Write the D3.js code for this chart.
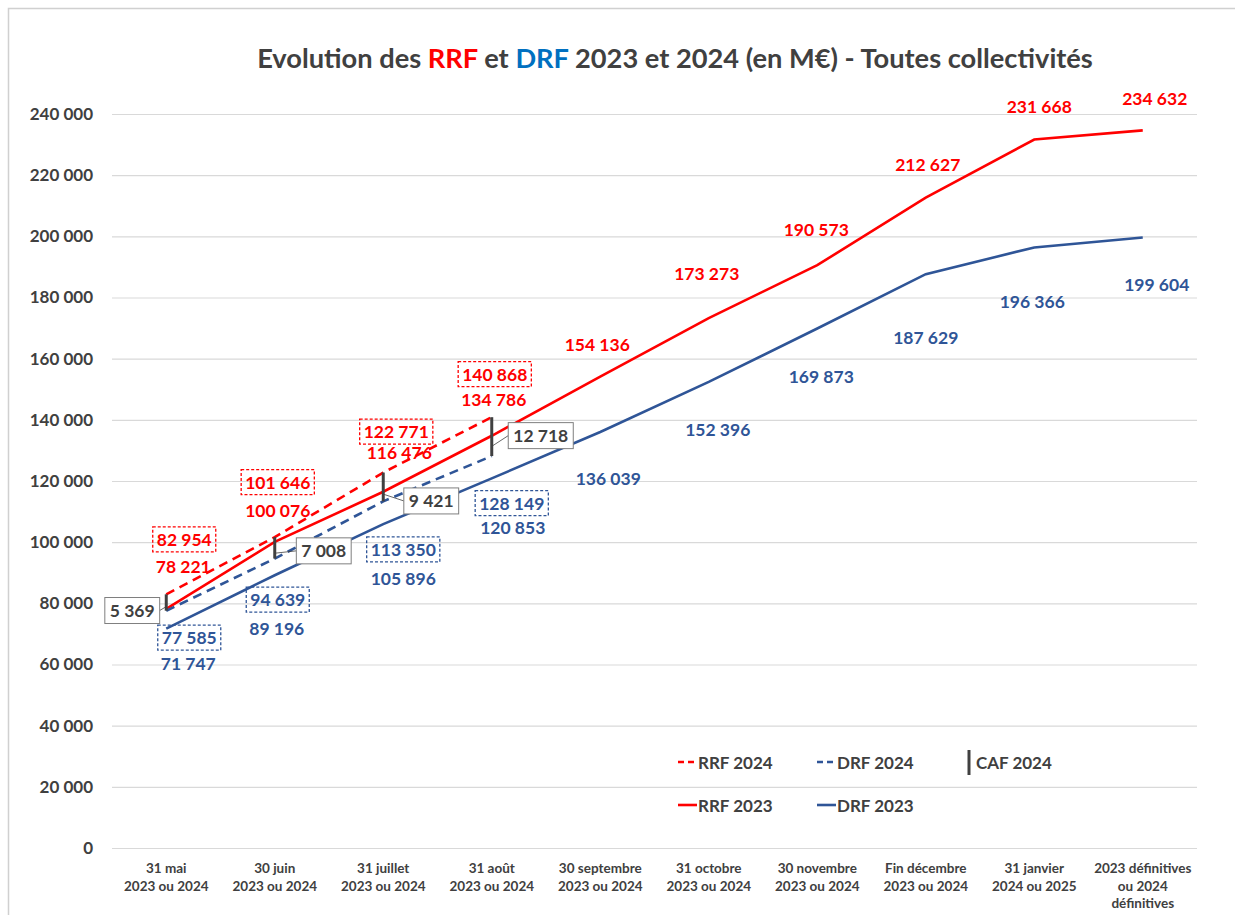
<!DOCTYPE html>
<html>
<head>
<meta charset="utf-8">
<script src="https://cdn.jsdelivr.net/npm/d3@7"></script>
<style>
  body { margin: 0; background: #fff; }
  svg text { font-family: Lato, "Open Sans", sans-serif; font-weight: bold; }
</style>
</head>
<body>
<script>
// data (M€)
const categories = [
  '31 mai\n2023 ou 2024', '30 juin\n2023 ou 2024', '31 juillet\n2023 ou 2024', '31 août\n2023 ou 2024',
  '30 septembre\n2023 ou 2024', '31 octobre\n2023 ou 2024', '30 novembre\n2023 ou 2024',
  'Fin décembre\n2023 ou 2024', '31 janvier\n2024 ou 2025', '2023 définitives\nou 2024\ndéfinitives'
];
const rrf2023 = [78221, 100076, 116476, 134786, 154136, 173273, 190573, 212627, 231668, 234632];
const drf2023 = [71747, 89196, 105896, 120853, 136039, 152396, 169873, 187629, 196366, 199604];
const rrf2024 = [82954, 101646, 122771, 140868];
const drf2024 = [77585, 94639, 113350, 128149];
const caf2024 = [5369, 7008, 9421, 12718];
const yTicks = [0, 20000, 40000, 60000, 80000, 100000, 120000, 140000, 160000, 180000, 200000, 220000, 240000];

// label placement (offset of label centre from its point), as placed in the original
const offRrf23 = [[17,-42],[3,-31],[16,-39],[2,-36],[-3,-32],[-2,-45],[-1,-36],[2,-33],[5,-33],[12,-32]];
const offDrf23 = [[22,35],[2,53],[20,54],[21,49],[8,47],[9,48],[4,48],[0,63],[-2,54],[14,47]];
const offRrf24 = [[18,-55],[3,-55],[13,-41],[3,-43]];
const offDrf24 = [[23,27],[3,41],[20,48],[20,47]];
const offCaf = [[-34,8],[49,3],[48,14],[49,-1]];

const RED = '#FF0000';
const BLUE = '#2F5597';
const GREY = '#404040';

const fr = d3.formatLocale({decimal: ',', thousands: ' ', grouping: [3], currency: ['', ' €']});
const fmt = fr.format(',d');

drawChart();

function drawChart() {
  const w = 1235, h = 915;
  const left = 112, right = 1197, top = 114, bottom = 848;

  const svg = d3.select('body').append('svg')
    .attr('width', w)
    .attr('height', h);

  // chart frame
  svg.append('rect')
    .attr('x', 8.5).attr('y', 8.5)
    .attr('width', w).attr('height', h)
    .attr('fill', 'none')
    .attr('stroke', '#d0d0d0')
    .attr('stroke-width', 1.5);

  const xScale = d3.scaleBand()
    .domain(d3.range(categories.length))
    .range([left, right]);
  const px = i => xScale(i) + xScale.bandwidth() / 2;

  const yScale = d3.scaleLinear()
    .domain([0, 240000])
    .range([bottom, top]);

  // gridlines
  svg.append('g')
    .attr('class', 'grid')
    .attr('transform', 'translate(' + left + ',0)')
    .call(d3.axisLeft(yScale).tickValues(yTicks).tickSize(-(right - left)).tickFormat(''))
    .call(g => g.select('.domain').remove())
    .call(g => g.selectAll('line').attr('stroke', '#d9d9d9').attr('stroke-width', 1.2));

  // y axis labels
  svg.append('g')
    .attr('transform', 'translate(' + left + ',0)')
    .call(d3.axisLeft(yScale).tickValues(yTicks).tickSize(0).tickPadding(19).tickFormat(fmt))
    .call(g => g.select('.domain').remove())
    .call(g => g.selectAll('text')
      .attr('fill', GREY)
      .style('font-size', '17px'));

  // x axis labels (multi-line)
  svg.append('g')
    .attr('transform', 'translate(0,' + bottom + ')')
    .call(d3.axisBottom(xScale).tickSize(0).tickFormat(i => categories[i]))
    .call(g => g.select('.domain').remove())
    .call(g => g.selectAll('text').each(function(i) {
      const t = d3.select(this);
      const lines = categories[i].split('\n');
      t.text(null)
        .attr('fill', GREY)
        .attr('y', 0)
        .attr('dy', null)
        .style('font-size', '13.5px');
      lines.forEach((ln, k) => {
        t.append('tspan')
          .attr('x', 0)
          .attr('y', 25 + k * 17.5)
          .text(ln);
      });
    }));

  // title
  const title = svg.append('text')
    .attr('x', 675)
    .attr('y', 68)
    .attr('text-anchor', 'middle')
    .attr('fill', GREY)
    .style('font-size', '23px');
  title.append('tspan').text('Evolution des ');
  title.append('tspan').attr('fill', RED).text('RRF');
  title.append('tspan').text(' et ');
  title.append('tspan').attr('fill', '#0070C0').text('DRF');
  title.append('tspan').text(' 2023 et 2024 (en M€) - Toutes collectivités');
  const tl = title.node().getComputedTextLength();
  title.style('font-size', (23 * 836 / tl) + 'px');

  // lines
  const line = d3.line()
    .x((d, i) => px(i))
    .y(d => yScale(d));

  const series = [
    {values: drf2023, color: BLUE, dash: null},
    {values: rrf2023, color: RED, dash: null},
    {values: drf2024, color: BLUE, dash: '9,6'},
    {values: rrf2024, color: RED, dash: '9,6'}
  ];
  series.forEach(s => {
    svg.append('path')
      .datum(s.values)
      .attr('d', line)
      .attr('fill', 'none')
      .attr('stroke', s.color)
      .attr('stroke-width', 2.6)
      .attr('stroke-dasharray', s.dash);
  });

  // CAF 2024 bars (difference RRF 2024 - DRF 2024) with callout boxes
  caf2024.forEach((v, i) => {
    const x = px(i);
    const y1 = yScale(rrf2024[i]);
    const y2 = yScale(drf2024[i]);
    const mid = (y1 + y2) / 2;
    svg.append('line')
      .attr('x1', x).attr('x2', x)
      .attr('y1', y1).attr('y2', y2)
      .attr('stroke', GREY)
      .attr('stroke-width', 3);

    const cx = x + offCaf[i][0];
    const cy = mid + offCaf[i][1];
    const g = svg.append('g');
    const rect = g.append('rect');
    const t = g.append('text')
      .attr('x', cx).attr('y', cy)
      .attr('text-anchor', 'middle')
      .attr('dominant-baseline', 'central')
      .attr('fill', GREY)
      .style('font-size', '17.5px')
      .text(fmt(v));
    const tw = t.node().getComputedTextLength();
    const bw = tw + 10, bh = 26;
    rect.attr('x', cx - bw / 2).attr('y', cy - bh / 2)
      .attr('width', bw).attr('height', bh)
      .attr('fill', '#fff')
      .attr('stroke', '#7f7f7f')
      .attr('stroke-width', 1);
    const edge = cx > x ? cx - bw / 2 : cx + bw / 2;
    g.insert('line', 'rect')
      .attr('x1', x).attr('y1', mid + (y2 - y1) * 0.25)
      .attr('x2', edge).attr('y2', cy)
      .attr('stroke', GREY)
      .attr('stroke-width', 0.8);
  });

  // value labels
  addLabels(svg, rrf2023, offRrf23, RED, false, px, yScale);
  addLabels(svg, drf2023, offDrf23, BLUE, false, px, yScale);
  addLabels(svg, rrf2024, offRrf24, RED, true, px, yScale);
  addLabels(svg, drf2024, offDrf24, BLUE, true, px, yScale);

  // legend
  const lg = svg.append('g').attr('class', 'legend');
  const legendItems = [
    {label: 'RRF 2024', color: RED, dash: '6,4', x: 678, y: 762},
    {label: 'DRF 2024', color: BLUE, dash: '6,4', x: 817, y: 762},
    {label: 'RRF 2023', color: RED, dash: null, x: 678, y: 805},
    {label: 'DRF 2023', color: BLUE, dash: null, x: 817, y: 805}
  ];
  legendItems.forEach(d => {
    lg.append('line')
      .attr('x1', d.x).attr('x2', d.x + 19)
      .attr('y1', d.y).attr('y2', d.y)
      .attr('stroke', d.color)
      .attr('stroke-width', 2.6)
      .attr('stroke-dasharray', d.dash);
    lg.append('text')
      .attr('x', d.x + 20).attr('y', d.y)
      .attr('dominant-baseline', 'central')
      .attr('fill', GREY)
      .style('font-size', '17px')
      .text(d.label);
  });
  lg.append('line')
    .attr('x1', 969).attr('x2', 969)
    .attr('y1', 750).attr('y2', 775)
    .attr('stroke', GREY)
    .attr('stroke-width', 3);
  lg.append('text')
    .attr('x', 976).attr('y', 762)
    .attr('dominant-baseline', 'central')
    .attr('fill', GREY)
    .style('font-size', '17px')
    .text('CAF 2024');
}

function addLabels(svg, values, offsets, color, boxed, px, yScale) {
  values.forEach((v, i) => {
    const cx = px(i) + offsets[i][0];
    const cy = yScale(v) + offsets[i][1];
    const g = svg.append('g');
    const t = g.append('text')
      .attr('x', cx).attr('y', cy)
      .attr('text-anchor', 'middle')
      .attr('dominant-baseline', 'central')
      .attr('fill', color)
      .style('font-size', '17.5px')
      .text(fmt(v));
    if (boxed) {
      const tw = t.node().getComputedTextLength();
      const bw = tw + 8, bh = 25;
      g.insert('rect', 'text')
        .attr('x', cx - bw / 2).attr('y', cy - bh / 2)
        .attr('width', bw).attr('height', bh)
        .attr('fill', 'none')
        .attr('stroke', color)
        .attr('stroke-width', 1.3)
        .attr('stroke-dasharray', '3,2');
    }
  });
}
</script>
</body>
</html>
